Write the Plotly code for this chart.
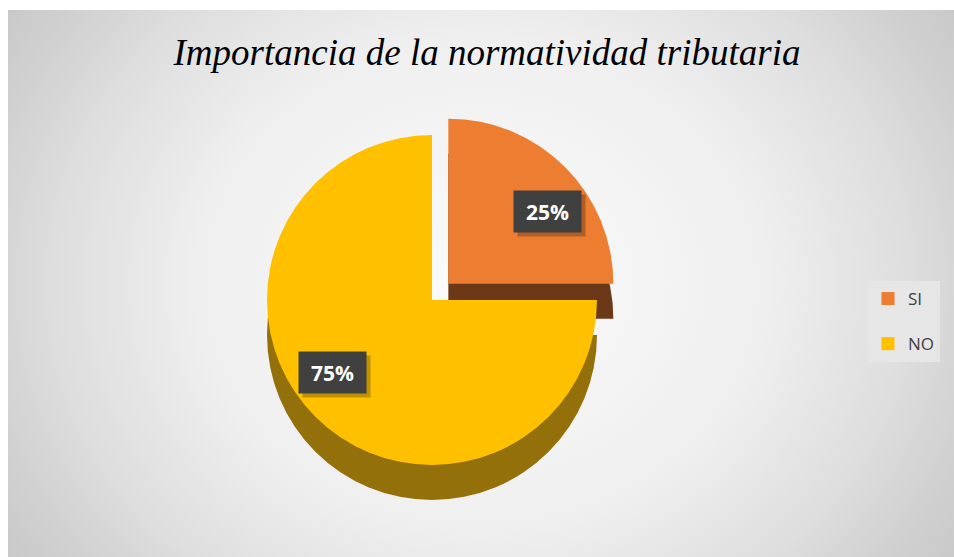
import math
import plotly.graph_objects as go

# ---- data ----
categories = ["SI", "NO"]
values = [25, 75]
slice_colors = ["#ED7D31", "#FFC000"]
side_colors = ["#6B3818", "#94700A"]
pulls = [0.14, 0.0]
title_text = "Importancia de la normatividad tributaria"

W, H = 954, 557

# pie geometry (pixels)
cx, cy, r = 432, 300, 165
depth = 35
maxpull = max(pulls)
box = r * (2 + 2 * maxpull)


def dom(cxp, cyp):
    return dict(x=[(cxp - box / 2) / W, (cxp + box / 2) / W],
                y=[1 - (cyp + box / 2) / H, 1 - (cyp - box / 2) / H])


fig = go.Figure()

# background radial gradient panel
fig.add_trace(go.Scatter(
    x=[-0.5, 1.5, 1.5, -0.5, -0.5], y=[-1.0, -1.0, 2.0, 2.0, -1.0],
    mode="lines", line=dict(width=0), fill="toself",
    fillgradient=dict(type="radial", colorscale=[
        [0.0, "#fbfbfb"], [0.3, "#efefef"], [0.45, "#dedede"],
        [0.55, "#cfcfcf"], [0.65, "#c4c4c4"], [1.0, "#b0b0b0"]]),
    hoverinfo="skip", showlegend=False))

# legend entries
for lab, col in zip(categories, slice_colors):
    fig.add_trace(go.Scatter(
        x=[None], y=[None], mode="markers", name=lab, legendgroup=lab,
        marker=dict(symbol="square", size=13, color=col)))

# pie side (depth)
fig.add_trace(go.Pie(
    labels=categories, values=values, sort=False, direction="clockwise",
    rotation=0, pull=pulls, marker=dict(colors=side_colors, line=dict(width=0)),
    textinfo="none", hoverinfo="skip", showlegend=False,
    domain=dom(cx, cy + depth)))

# pie top face
fig.add_trace(go.Pie(
    labels=categories, values=values, sort=False, direction="clockwise",
    rotation=0, pull=pulls, marker=dict(colors=slice_colors, line=dict(width=0)),
    textinfo="none", showlegend=False,
    domain=dom(cx, cy)))

# percentage labels as boxed annotations placed along slice bisectors
total = sum(values)
cum = 0
annotations = []
kx, ky = 0.85, 0.62
for v, p in zip(values, pulls):
    theta = 2 * math.pi * (cum + v / 2) / total
    cum += v
    px = cx + (p + kx) * r * math.sin(theta)
    py = cy - (p + ky) * r * math.cos(theta)
    txt = f"{round(100 * v / total)}%"
    pos = dict(x=px / W, y=1 - py / H, xref="paper", yref="paper",
               xanchor="center", yanchor="middle",
               showarrow=False, width=65, height=39)
    annotations.append(dict(text=" ", bgcolor="rgba(0,0,0,0.25)",
                            xshift=4, yshift=-4, **pos))
    annotations.append(dict(text=f"<b>{txt}</b>", bgcolor="#404040",
                            font=dict(family="Open Sans", size=21, color="white"),
                            **pos))

fig.update_layout(
    width=W, height=H,
    margin=dict(l=0, r=0, t=0, b=0),
    paper_bgcolor="white", plot_bgcolor="white",
    xaxis=dict(domain=[8 / W, 1], range=[0, 1], visible=False, fixedrange=True),
    yaxis=dict(domain=[0, 1 - 10 / H], range=[0, 1], visible=False, fixedrange=True),
    title=dict(text=title_text, x=487 / W, xanchor="center", y=1 - 52 / H,
               yanchor="middle",
               font=dict(family="Liberation Serif", size=37, style="italic",
                         color="black")),
    legend=dict(x=868 / W, y=1 - 281 / H, xanchor="left", yanchor="top",
                bgcolor="#e6e6e6", borderwidth=0, tracegroupgap=20,
                font=dict(family="Open Sans", size=17, color="#404040")),
    annotations=annotations,
    showlegend=True,
)

fig.write_html("out.html",
               config={"displayModeBar": False},
               post_script="document.body.style.margin='0';"
                           "document.body.style.overflow='hidden';")
